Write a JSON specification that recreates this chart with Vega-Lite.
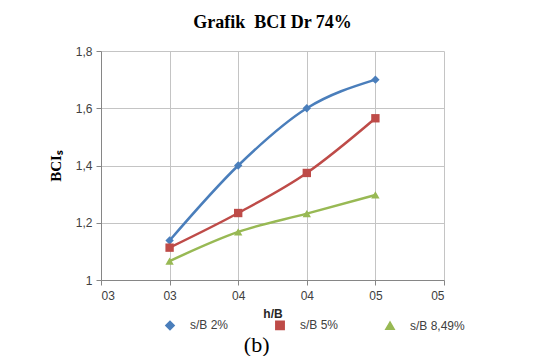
{
  "$schema": "https://vega.github.io/schema/vega-lite/v6.json",
  "background": "white",
  "padding": {"left": 48, "top": 14, "right": 5, "bottom": 0},
  "title": {"text": "(b)", "orient": "bottom", "font": "Liberation Serif", "fontSize": 22, "fontWeight": "normal", "color": "black", "anchor": "middle", "offset": 2},
  "vconcat": [
    {
      "title": {"text": "Grafik\u00a0 BCI Dr 74%", "font": "Liberation Serif", "fontSize": 18, "fontWeight": "bold", "color": "black", "anchor": "middle", "frame": "group", "offset": 13},
      "width": 343,
      "height": 229,
      "data": {
        "values": [
          {"hB": 0.30, "BCI": 1.138, "series": "s/B 2%"},
          {"hB": 0.35, "BCI": 1.400, "series": "s/B 2%"},
          {"hB": 0.40, "BCI": 1.600, "series": "s/B 2%"},
          {"hB": 0.45, "BCI": 1.700, "series": "s/B 2%"},
          {"hB": 0.30, "BCI": 1.113, "series": "s/B 5%"},
          {"hB": 0.35, "BCI": 1.234, "series": "s/B 5%"},
          {"hB": 0.40, "BCI": 1.374, "series": "s/B 5%"},
          {"hB": 0.45, "BCI": 1.565, "series": "s/B 5%"},
          {"hB": 0.30, "BCI": 1.066, "series": "s/B 8,49%"},
          {"hB": 0.35, "BCI": 1.168, "series": "s/B 8,49%"},
          {"hB": 0.40, "BCI": 1.232, "series": "s/B 8,49%"},
          {"hB": 0.45, "BCI": 1.297, "series": "s/B 8,49%"}
        ]
      },
      "encoding": {
        "x": {
          "field": "hB", "type": "quantitative",
          "scale": {"domain": [0.25, 0.5], "nice": false, "zero": false},
          "axis": {
            "title": "h/B", "values": [0.25, 0.3, 0.35, 0.4, 0.45, 0.5],
            "labelExpr": "'0' + round(datum.value * 10)",
            "titleFont": "Liberation Sans", "titleFontSize": 12, "titleFontWeight": "bold", "titleColor": "#262626", "titlePadding": 7,
            "labelFont": "Liberation Sans", "labelFontSize": 12, "labelColor": "#404040", "labelPadding": 5,
            "grid": true, "gridColor": "#c4c4c4", "gridWidth": 1,
            "domainColor": "#868686", "tickColor": "#868686", "tickSize": 5
          }
        },
        "y": {
          "field": "BCI", "type": "quantitative",
          "scale": {"domain": [1, 1.8], "nice": false, "zero": false},
          "axis": {
            "title": "BCIₛ", "values": [1, 1.2, 1.4, 1.6, 1.8],
            "labelExpr": "replace(format(datum.value, '~g'), '.', ',')",
            "titleFont": "Liberation Serif", "titleFontSize": 15, "titleFontWeight": "bold", "titleColor": "black", "titlePadding": 12,
            "labelFont": "Liberation Sans", "labelFontSize": 12, "labelColor": "#404040", "labelPadding": 4,
            "grid": true, "gridColor": "#c4c4c4", "gridWidth": 1,
            "domainColor": "#868686", "tickColor": "#868686", "tickSize": 5
          }
        },
        "color": {
          "field": "series", "type": "nominal",
          "scale": {"domain": ["s/B 2%", "s/B 5%", "s/B 8,49%"], "range": ["#4A7EBB", "#BE4B48", "#98B954"]},
          "legend": {
            "title": null, "orient": "none", "legendX": 63, "legendY": 268, "direction": "horizontal",
            "labelFont": "Liberation Sans", "labelFontSize": 12, "labelColor": "#404040",
            "columnPadding": 43, "symbolSize": 70, "labelOffset": 14, "padding": 0
          }
        },
        "shape": {
          "field": "series", "type": "nominal",
          "scale": {"domain": ["s/B 2%", "s/B 5%", "s/B 8,49%"], "range": ["diamond", "square", "triangle-up"]},
          "legend": {
            "title": null, "orient": "none", "legendX": 63, "legendY": 268, "direction": "horizontal",
            "labelFont": "Liberation Sans", "labelFontSize": 12, "labelColor": "#404040",
            "columnPadding": 43, "symbolSize": 70, "labelOffset": 14, "padding": 0
          }
        }
      },
      "layer": [
        {"mark": {"type": "line", "strokeWidth": 2.5, "interpolate": "monotone"}},
        {"mark": {"type": "point", "filled": true, "size": 70, "opacity": 1}}
      ]
    }
  ],
  "config": {"view": {"stroke": null}}
}
